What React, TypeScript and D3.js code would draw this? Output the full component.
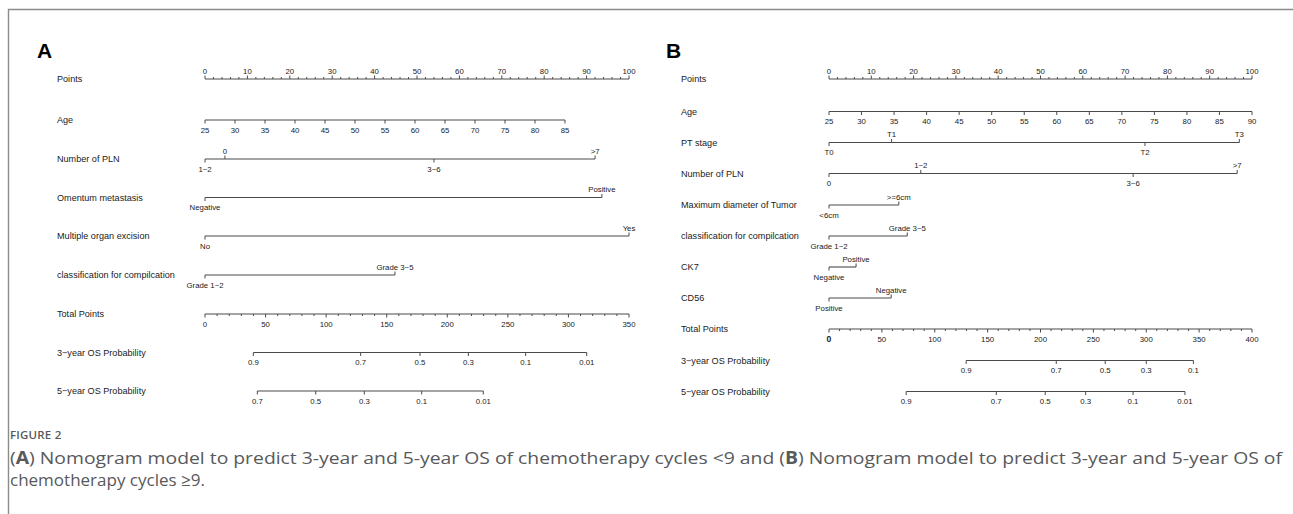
import React from "react";
import * as d3 from "d3";

// ---------- Panel A data ----------
const A_pointsTicks = [0, 10, 20, 30, 40, 50, 60, 70, 80, 90, 100];
const A_ageTicks = [25, 30, 35, 40, 45, 50, 55, 60, 65, 70, 75, 80, 85];
const A_ageDomain = [25, 85];
const A_agePoints = [0, 84.9];
const A_plnLevels = ["1~2", "0", "3~6", ">7"];
const A_plnPoints = [0, 4.7, 54, 92];
const A_omentumLevels = ["Negative", "Positive"];
const A_omentumPoints = [0, 93.6];
const A_multipleLevels = ["No", "Yes"];
const A_multiplePoints = [0, 100];
const A_classLevels = ["Grade 1~2", "Grade 3~5"];
const A_classPoints = [0, 44.8];
const A_totalTicks = [0, 50, 100, 150, 200, 250, 300, 350];
const A_os3Labels = ["0.9", "0.7", "0.5", "0.3", "0.1", "0.01"];
const A_os3Total = [39.9, 128.5, 177.5, 217.4, 264.7, 315.1];
const A_os5Labels = ["0.7", "0.5", "0.3", "0.1", "0.01"];
const A_os5Total = [43.2, 91.4, 131.5, 178.9, 229.7];

// ---------- Panel B data ----------
const B_pointsTicks = [0, 10, 20, 30, 40, 50, 60, 70, 80, 90, 100];
const B_ageTicks = [25, 30, 35, 40, 45, 50, 55, 60, 65, 70, 75, 80, 85, 90];
const B_ageDomain = [25, 90];
const B_agePoints = [0, 100];
const B_ptLevels = ["T0", "T1", "T2", "T3"];
const B_ptPoints = [0, 14.8, 74.7, 97];
const B_plnLevels = ["0", "1~2", "3~6", ">7"];
const B_plnPoints = [0, 21.7, 71.9, 96.5];
const B_diamLevels = ["<6cm", ">=6cm"];
const B_diamPoints = [0, 16.5];
const B_classLevels = ["Grade 1~2", "Grade 3~5"];
const B_classPoints = [0, 18.5];
const B_ck7Levels = ["Negative", "Positive"];
const B_ck7Points = [0, 6.4];
const B_cd56Levels = ["Positive", "Negative"];
const B_cd56Points = [0, 14.7];
const B_totalTicks = [0, 50, 100, 150, 200, 250, 300, 350, 400];
const B_os3Labels = ["0.9", "0.7", "0.5", "0.3", "0.1"];
const B_os3Total = [129.7, 214.9, 261.2, 300, 344.6];
const B_os5Labels = ["0.9", "0.7", "0.5", "0.3", "0.1", "0.01"];
const B_os5Total = [73, 158.2, 204.5, 242.7, 287.5, 336.6];

const CAPTION_TITLE = "FIGURE 2";

type Row =
  | { kind: "points"; label: string; ticks: number[] }
  | { kind: "cont"; label: string; ticks: number[]; domain: number[]; pts: number[] }
  | { kind: "cat"; label: string; levels: string[]; pts: number[] }
  | { kind: "total"; label: string; ticks: number[]; boldFirst?: boolean }
  | { kind: "prob"; label: string; labels: string[]; totals: number[] };

const rowsA: Row[] = [
  { kind: "points", label: "Points", ticks: A_pointsTicks },
  { kind: "cont", label: "Age", ticks: A_ageTicks, domain: A_ageDomain, pts: A_agePoints },
  { kind: "cat", label: "Number of PLN", levels: A_plnLevels, pts: A_plnPoints },
  { kind: "cat", label: "Omentum metastasis", levels: A_omentumLevels, pts: A_omentumPoints },
  { kind: "cat", label: "Multiple organ excision", levels: A_multipleLevels, pts: A_multiplePoints },
  { kind: "cat", label: "classification for compilcation", levels: A_classLevels, pts: A_classPoints },
  { kind: "total", label: "Total Points", ticks: A_totalTicks },
  { kind: "prob", label: "3\u2212year OS Probability", labels: A_os3Labels, totals: A_os3Total },
  { kind: "prob", label: "5\u2212year OS Probability", labels: A_os5Labels, totals: A_os5Total },
];

const rowsB: Row[] = [
  { kind: "points", label: "Points", ticks: B_pointsTicks },
  { kind: "cont", label: "Age", ticks: B_ageTicks, domain: B_ageDomain, pts: B_agePoints },
  { kind: "cat", label: "PT stage", levels: B_ptLevels, pts: B_ptPoints },
  { kind: "cat", label: "Number of PLN", levels: B_plnLevels, pts: B_plnPoints },
  { kind: "cat", label: "Maximum diameter of Tumor", levels: B_diamLevels, pts: B_diamPoints },
  { kind: "cat", label: "classification for compilcation", levels: B_classLevels, pts: B_classPoints },
  { kind: "cat", label: "CK7", levels: B_ck7Levels, pts: B_ck7Points },
  { kind: "cat", label: "CD56", levels: B_cd56Levels, pts: B_cd56Points },
  { kind: "total", label: "Total Points", ticks: B_totalTicks, boldFirst: true },
  { kind: "prob", label: "3\u2212year OS Probability", labels: B_os3Labels, totals: B_os3Total },
  { kind: "prob", label: "5\u2212year OS Probability", labels: B_os5Labels, totals: B_os5Total },
];

const FONT = "'Liberation Sans', Arial, Helvetica, sans-serif";
const LINE = "#4a4a4a";
const TXT = "#1a1a1a";
const TICK_FS = 7.8;
const LABEL_FS = 9.1;

interface PanelProps {
  letter: string;
  letterX: number;
  labelX: number;
  x0: number;
  x1: number;
  rowY: number[];
  rows: Row[];
}

function Panel({ letter, letterX, labelX, x0, x1, rowY, rows }: PanelProps) {
  const px = d3.scaleLinear().domain([0, 100]).range([x0, x1]);
  const totalRow = rows.find((r) => r.kind === "total") as any;
  const tmax = totalRow.ticks[totalRow.ticks.length - 1];
  const tx = d3.scaleLinear().domain([0, tmax]).range([x0, x1]);
  const MAJ = 3.5;
  const MIN = 2;
  const up = (y: number) => y - 5.5;
  const down = (y: number) => y + 12.5;

  const tick = (x: number, y: number, dir: number, len: number, key: string) => (
    <line key={key} x1={x} x2={x} y1={y} y2={y + dir * len} stroke={LINE} strokeWidth={1} />
  );
  const tlabel = (x: number, y: number, s: string, key: string, bold = false) => (
    <text key={key} x={x} y={y} textAnchor="middle" fontSize={bold ? 8.6 : TICK_FS} fontWeight={bold ? "bold" : "normal"} fill={TXT}>
      {s}
    </text>
  );

  return (
    <g fontFamily={FONT}>
      <text x={letterX} y={58} fontSize={21} fontWeight="bold" fill="#000">
        {letter}
      </text>
      {rows.map((r, i) => {
        const y = rowY[i];
        const els: React.ReactNode[] = [];
        els.push(
          <text key="lab" x={labelX} y={y + 3} fontSize={LABEL_FS} fill={TXT}>
            {r.label}
          </text>
        );
        if (r.kind === "points" || r.kind === "total") {
          const sc = r.kind === "points" ? px : tx;
          const dir = r.kind === "points" ? -1 : 1;
          const ticks = r.ticks;
          const a = ticks[0], b = ticks[ticks.length - 1];
          els.push(<line key="ax" x1={sc(a)} x2={sc(b)} y1={y} y2={y} stroke={LINE} strokeWidth={1.1} />);
          for (let k = 0; k < ticks.length - 1; k++) {
            const step = (ticks[k + 1] - ticks[k]) / 5;
            for (let m = 1; m < 5; m++) els.push(tick(sc(ticks[k] + m * step), y, dir, MIN, `mn${k}-${m}`));
          }
          ticks.forEach((t, k) => {
            els.push(tick(sc(t), y, dir, MAJ, `t${k}`));
            els.push(
              tlabel(sc(t), dir < 0 ? up(y) : down(y), String(t), `l${k}`, r.kind === "total" && !!r.boldFirst && k === 0)
            );
          });
        } else if (r.kind === "cont") {
          const toPts = d3.scaleLinear().domain(r.domain).range(r.pts);
          const xs = r.ticks.map((t) => px(toPts(t)));
          els.push(<line key="ax" x1={xs[0]} x2={xs[xs.length - 1]} y1={y} y2={y} stroke={LINE} strokeWidth={1.1} />);
          r.ticks.forEach((t, k) => {
            els.push(tick(xs[k], y, 1, MAJ, `t${k}`));
            els.push(tlabel(xs[k], down(y), String(t), `l${k}`));
          });
        } else if (r.kind === "cat") {
          const order = d3.range(r.levels.length).sort((p, q) => r.pts[p] - r.pts[q]);
          const xs = r.pts.map((p) => px(p));
          els.push(
            <line key="ax" x1={d3.min(xs)!} x2={d3.max(xs)!} y1={y} y2={y} stroke={LINE} strokeWidth={1.1} />
          );
          order.forEach((idx, k) => {
            const dir = k % 2 === 0 ? 1 : -1;
            els.push(tick(xs[idx], y, dir, MAJ, `t${idx}`));
            els.push(tlabel(xs[idx], dir > 0 ? down(y) : up(y), r.levels[idx], `l${idx}`));
          });
        } else if (r.kind === "prob") {
          const xs = r.totals.map((t) => tx(t));
          els.push(<line key="ax" x1={xs[0]} x2={xs[xs.length - 1]} y1={y} y2={y} stroke={LINE} strokeWidth={1.1} />);
          r.labels.forEach((s, k) => {
            els.push(tick(xs[k], y, 1, MAJ, `t${k}`));
            els.push(tlabel(xs[k], down(y), s, `l${k}`));
          });
        }
        return <g key={i}>{els}</g>;
      })}
    </g>
  );
}

export default function App() {
  const rowYA = [79, 120, 159, 197.5, 236, 275, 314, 352.5, 391];
  const rowYB = [79, 111.5, 142.5, 173.5, 205, 236, 267, 298, 329, 360.5, 391.5];
  const capFont = "'Open Sans', 'Noto Sans', sans-serif";
  return (
    <svg
      width={1293}
      height={514}
      style={{ position: "absolute", left: 0, top: 0, background: "#fff" }}
    >
      <rect x={0} y={0} width={1293} height={514} fill="#fff" />
      <path d="M8.5,514 L8.5,9.5 L1293,9.5" fill="none" stroke="#8c8c8c" strokeWidth={1.4} />
      <Panel letter="A" letterX={37} labelX={57} x0={205} x1={629} rowY={rowYA} rows={rowsA} />
      <Panel letter="B" letterX={666} labelX={681} x0={829} x1={1252} rowY={rowYB} rows={rowsB} />
      <text x={10} y={438.5} fontFamily={capFont} fontSize={11.5} fontWeight={600} fill="#58595b" letterSpacing={0.2}>
        {CAPTION_TITLE}
      </text>
      <text x={10} y={464} fontFamily={capFont} fontSize={17} fill="#58595b" textLength={1272} lengthAdjust="spacingAndGlyphs">
        (<tspan fontWeight="bold">A</tspan>) Nomogram model to predict 3-year and 5-year OS of chemotherapy cycles &lt;9 and (
        <tspan fontWeight="bold">B</tspan>) Nomogram model to predict 3-year and 5-year OS of
      </text>
      <text x={10} y={486} fontFamily={capFont} fontSize={17} fill="#58595b">
        chemotherapy cycles ≥9.
      </text>
    </svg>
  );
}
